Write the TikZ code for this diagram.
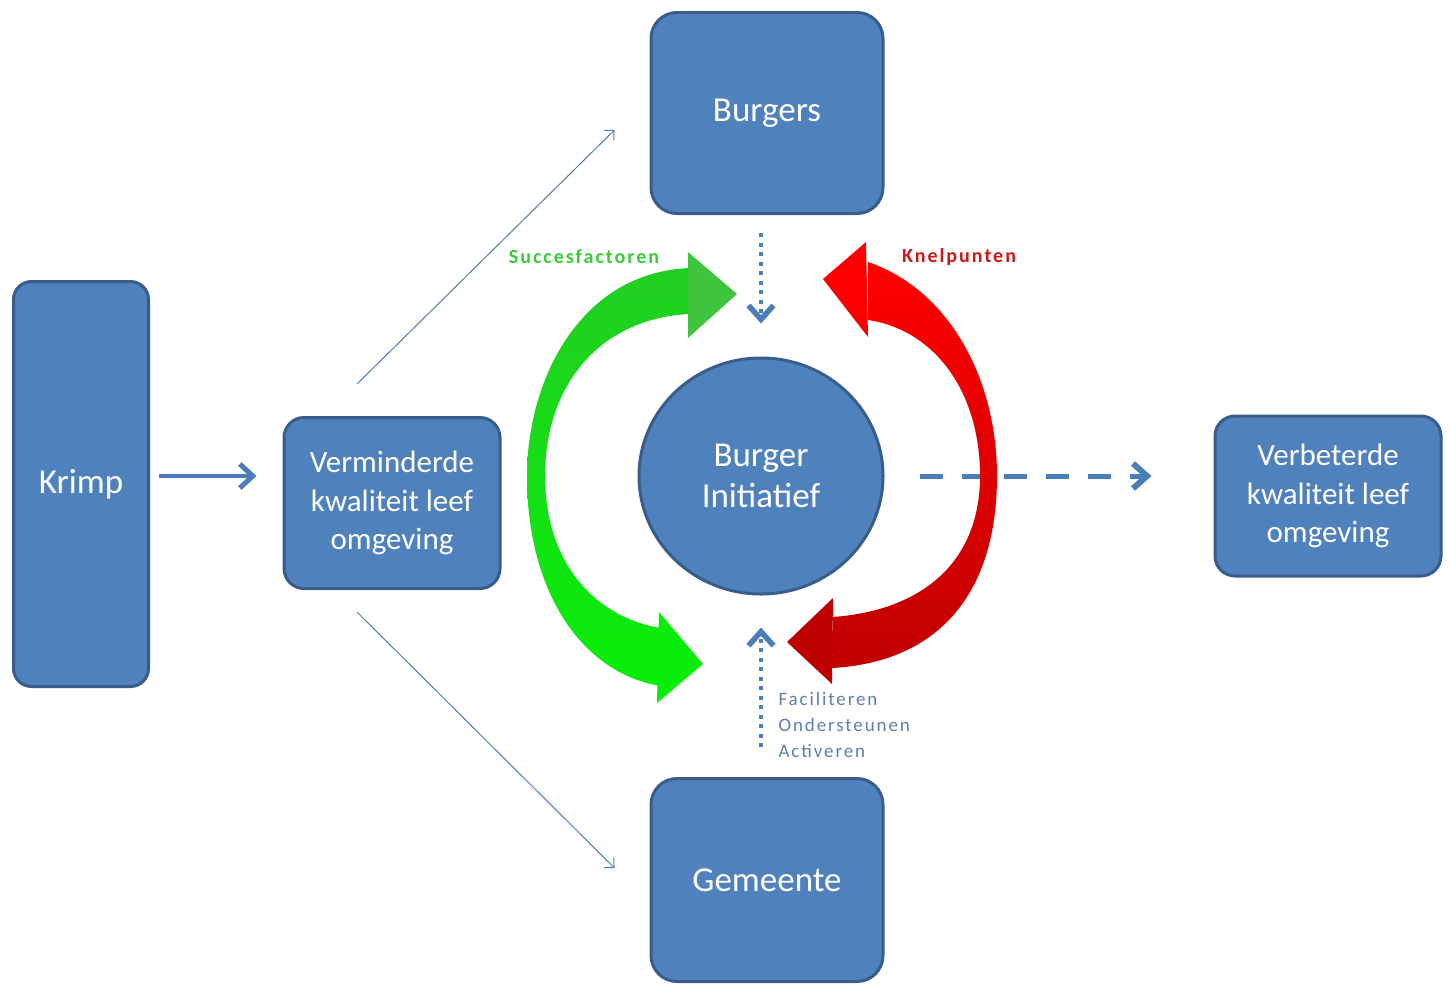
\documentclass[tikz,border=0pt]{standalone}
\usepackage{fontspec}
\setmainfont{Carlito}
\newfontfamily\spacedfont[LetterSpace=10]{Carlito}
\usepackage{tikz}
\usetikzlibrary{arrows.meta,positioning,shapes.geometric}

\definecolor{boxblue}{RGB}{79,129,189}
\definecolor{boxedge}{RGB}{56,93,138}
\definecolor{arrowblue}{RGB}{74,126,187}
\definecolor{notegrey}{RGB}{92,126,176}
\definecolor{succtop}{RGB}{34,206,34}
\definecolor{succbottom}{RGB}{8,238,8}
\definecolor{succhead}{RGB}{62,196,62}
\definecolor{succlabel}{RGB}{56,204,56}
\definecolor{knelred}{RGB}{255,0,0}
\definecolor{kneldark}{RGB}{192,0,0}
\definecolor{knellabel}{RGB}{204,24,24}

\begin{document}
\begin{tikzpicture}[
  x=1pt, y=-1pt,
  bigbox/.style={rectangle, rounded corners=26pt, draw=boxedge, line width=3pt, fill=boxblue, text=white,
    align=center, font=\fontsize{35}{42}\selectfont, minimum width=232pt, minimum height=201pt},
  sidebox/.style={rectangle, rounded corners=20pt, draw=boxedge, line width=3pt, fill=boxblue, text=white,
    align=center, font=\fontsize{31}{38.5}\selectfont, minimum width=216pt, minimum height=171pt},
  hub/.style={ellipse, draw=boxedge, line width=3pt, fill=boxblue, text=white, inner sep=0pt,
    align=center, font=\fontsize{35}{41}\selectfont, minimum width=244pt, minimum height=236pt},
  note/.style={font=\spacedfont\bfseries\fontsize{20}{24}\selectfont},
  thinarrow/.style={draw=arrowblue, line width=1pt, -{Straight Barb[length=7pt,width=14pt]}},
  boldarrow/.style={draw=arrowblue, line width=4pt, -{Straight Barb[length=13pt,width=24pt,line width=5pt]}},
  dotarrow/.style={draw=arrowblue, line width=4pt, dash pattern=on 4pt off 5.5pt,
    -{Straight Barb[length=14pt,width=25pt,line width=5.5pt]}},
  dasharrow/.style={draw=arrowblue, line width=5pt, dash pattern=on 23pt off 19pt,
    -{Straight Barb[length=14pt,width=25pt,line width=6pt]}}
]
\useasboundingbox (0,0) rectangle (1453,986);

% boxes
\node[bigbox, rounded corners=18pt, minimum width=135pt, minimum height=405pt] (krimp) at (81,484) {Krimp};
\node[sidebox] (worse) at (392,503) {Verminderde\\kwaliteit leef\\omgeving};
\node[bigbox] (burgers) at (767,113) {Burgers};
\node[bigbox, minimum height=203pt] (gemeente) at (767,880) {Gemeente};
\node[sidebox, minimum width=226pt, minimum height=160pt] (better) at (1328,496) {Verbeterde\\kwaliteit leef\\omgeving};

% straight connectors
\draw[boldarrow] ([shift={(9,-8)}]krimp.east) -- ([shift={(-26,-27)}]worse.west);
\draw[thinarrow] ([shift={(-35,-32)}]worse.north) -- ([shift={(-35,17)}]burgers.west);
\draw[thinarrow] ([shift={(-35,22)}]worse.south) -- ([shift={(-35,-12)}]gemeente.west);

% green loop
\shade[top color=succtop, bottom color=succbottom]
  (690,268) .. controls (580,272) and (527,380) .. (527,476)
  .. controls (527,590) and (580,672) .. (660,686)
  -- (660,628) .. controls (592,616) and (545,560) .. (545,476)
  .. controls (545,385) and (600,318) .. (690,314) -- cycle;
\fill[succhead] (688,252) -- (737,294) -- (688,338) -- cycle;
\fill[succbottom] (659,612) -- (703,664) -- (657,703) -- cycle;

\node[hub] (initiatief) at (761,476) {Burger\\Initiatief};

\draw[dotarrow] ([shift={(-6,18)}]burgers.south) -- ([shift={(0,-33)}]initiatief.north);
\draw[dotarrow] ([shift={(-6,-30)}]gemeente.north) -- ([shift={(0,32)}]initiatief.south);
\draw[dasharrow] ([xshift=35pt]initiatief.east) -- ([shift={(-62,-20)}]better.west);

% red loop
\shade[top color=knelred, middle color=knelred!80!kneldark, bottom color=kneldark]
  (868,262) .. controls (950,290) and (997,380) .. (997,476)
  .. controls (997,592) and (940,662) .. (832,668)
  -- (833,617) .. controls (925,610) and (980,560) .. (980,476)
  .. controls (980,392) and (935,330) .. (868,320) -- cycle;
\fill[knelred] (866,242) -- (823,279) -- (868,337) -- cycle;
\fill[kneldark] (833,598) -- (787,642) -- (832,684) -- cycle;

% labels
\node[note, text=succlabel] (succes) at (584,257) {Succesfactoren};
\node[note, text=knellabel] (knel) at (959,257) {Knelpunten};
\node[anchor=west, align=left, text=notegrey, font=\spacedfont\fontsize{19}{26}\selectfont] (roles) at (775,725)
  {Faciliteren\\Ondersteunen\\Activeren};
\end{tikzpicture}
\end{document}
